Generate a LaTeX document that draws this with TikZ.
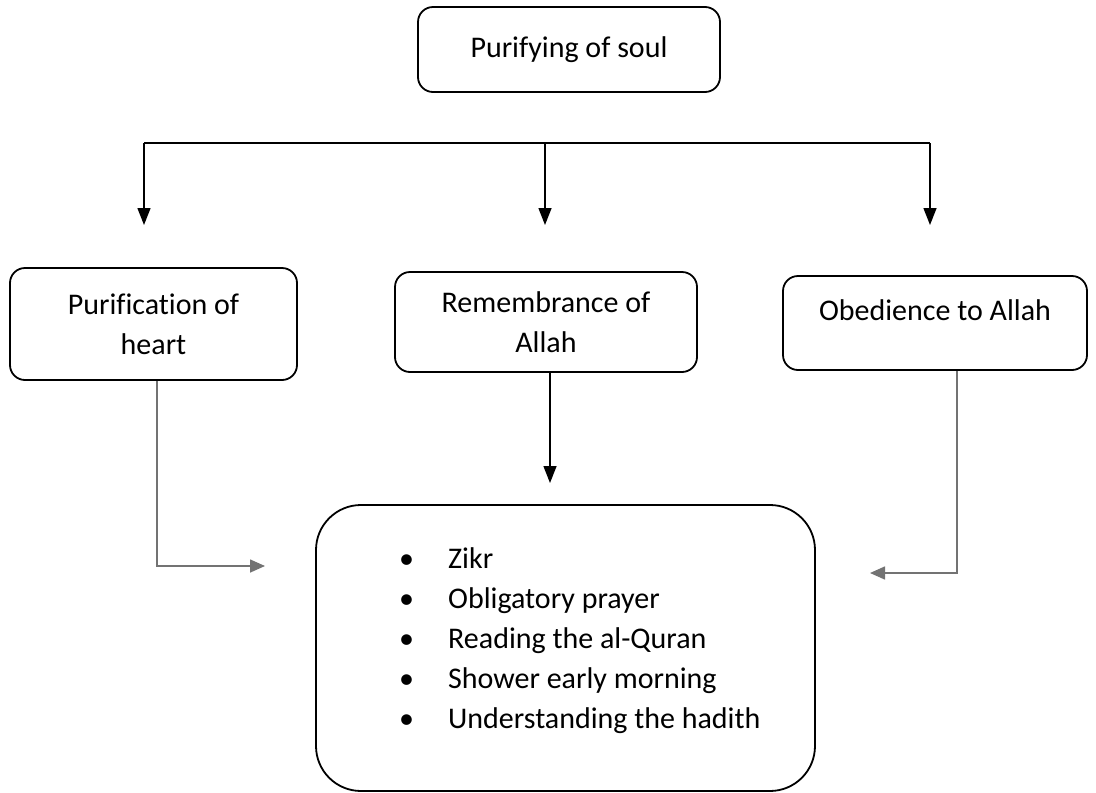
\documentclass[tikz,border=0pt]{standalone}
\usepackage{fontspec}
\setmainfont{Carlito}[Ligatures=CommonOff]
\usetikzlibrary{arrows.meta,positioning}

\newcommand{\bul}{\makebox[49pt][l]{\textbullet}}

\begin{document}
\begin{tikzpicture}[
  x=1pt, y=-1pt,
  font=\fontsize{30}{40}\selectfont,
  box/.style  ={draw=black, rounded corners=15pt, align=center,
                inner sep=0pt, line width=1.8pt},
  head/.style ={box, minimum width=302pt, minimum height=85pt},
  path/.style ={box, minimum width=300pt, minimum height=100pt},
  acts/.style ={box, rounded corners=45pt, minimum width=499pt, minimum height=286pt},
  item/.style ={anchor=base west, inner sep=0pt},
  arr/.style  ={-{Triangle[length=17pt,width=13pt]}, line width=1.4pt},
  garr/.style ={-{Triangle[length=15pt,width=13pt]}, line width=1.6pt, black!55},
]
\useasboundingbox (0,0) rectangle (1096,793);

\node[head] (soul)  at (569,49.5) {Purifying of soul};

\node[path, minimum width=287pt, minimum height=112pt] (heart) at (153.5,324) {Purification of\\heart};
\node[path, minimum width=302pt]                      (remem) at (546,322)   {Remembrance of\\Allah};
\node[path, minimum width=304pt, minimum height=94pt,
      text height=20pt, text depth=25pt]               (obed)  at (935,323)   {Obedience to Allah};

\node[acts] (deeds) at (565.5,648) {};
\node[item] (i1) at (399,568) {\bul Zikr};
\node[item] (i2) at (399,608) {\bul Obligatory prayer};
\node[item] (i3) at (399,648) {\bul Reading the al-Quran};
\node[item] (i4) at (399,688) {\bul Shower early morning};
\node[item] (i5) at (399,728) {\bul Understanding the hadith};

% branching bar
\coordinate (bl) at (144,143);
\coordinate (bm) at (545,143);
\coordinate (br) at (930,143);
\coordinate (tl) at (144,225);
\coordinate (tm) at (545,225);
\coordinate (tr) at (930,225);
\draw[line width=1.4pt] (bl) -- (br);
\draw[arr] (bl) -- (tl);
\draw[arr] (bm) -- (tm);
\draw[arr] (br) -- (tr);

% into the list of deeds
\coordinate (mtip) at (550,483);
\coordinate (ltip) at (265,566);
\coordinate (rtip) at (870,573);
\draw[arr]  (remem.south -| mtip) -- (mtip);
\draw[garr] ([xshift=3.5pt]heart.south) |- (ltip);
\draw[garr] ([xshift=22pt]obed.south) |- (rtip);

\end{tikzpicture}
\end{document}
